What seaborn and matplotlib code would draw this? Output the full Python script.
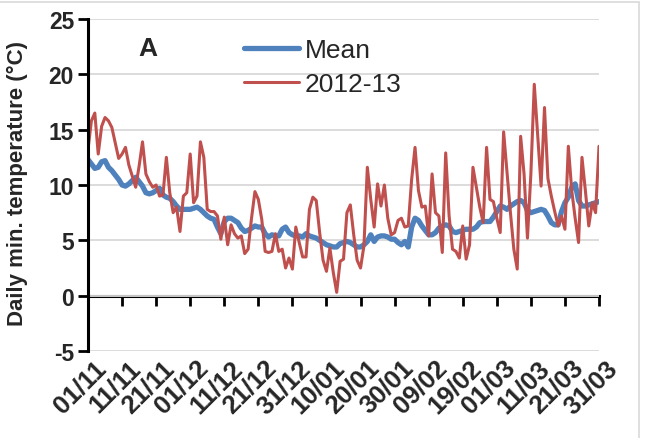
import numpy as np
import pandas as pd
import matplotlib
matplotlib.use("Agg")
import matplotlib.pyplot as plt
import matplotlib.transforms as mtransforms
from matplotlib.patches import Rectangle
import seaborn as sns

# Tick labels every 10 days, 1 Nov to 31 Mar
tick_labels = ["01/11", "11/11", "21/11", "01/12", "11/12", "21/12", "31/12", "10/01",
               "20/01", "30/01", "09/02", "19/02", "01/03", "11/03", "21/03", "31/03"]

# Long-term mean daily minimum temperature (°C), one value per day
mean_temp = [
    12.3, 11.9, 11.5, 11.6, 12.1, 12.2, 11.6, 11.3, 10.9, 10.5,
    10.0, 9.9, 10.1, 10.4, 10.7, 10.3, 9.9, 9.3, 9.2, 9.3,
    9.5, 9.7, 9.1, 8.9, 8.8, 8.5, 8.1, 7.8, 7.8, 7.8,
    7.8, 7.9, 8.0, 7.8, 7.5, 7.2, 7.0, 6.9, 6.2, 5.6,
    6.7, 7.0, 7.0, 6.8, 6.6, 6.1, 5.8, 5.9, 6.1, 6.3,
    6.2, 6.2, 5.6, 5.3, 5.5, 5.4, 5.4, 6.0, 6.2, 5.7,
    5.5, 5.4, 5.4, 5.3, 5.6, 5.4, 5.3, 5.2, 5.0, 4.8,
    4.6, 4.5, 4.4, 4.4, 4.7, 4.8, 4.9, 4.8, 4.6, 4.4,
    4.4, 4.6, 4.9, 5.5, 4.9, 5.3, 5.4, 5.4, 5.3, 5.1,
    5.1, 4.8, 4.6, 4.9, 4.4, 6.2, 7.0, 6.8, 6.3, 5.9,
    5.5, 5.5, 5.7, 6.1, 6.3, 6.4, 6.3, 5.8, 5.7, 5.8,
    5.9, 6.0, 6.0, 6.0, 6.2, 6.6, 6.7, 6.7, 6.7, 7.1,
    7.6, 8.1, 8.0, 7.8, 8.1, 8.3, 8.5, 8.6, 8.4, 7.7,
    7.5, 7.6, 7.7, 7.8, 7.7, 7.2, 6.6, 6.4, 6.4, 7.6,
    8.4, 8.9, 9.8, 10.1, 8.6, 8.1, 8.1, 8.2, 8.3, 8.4, 8.5,
]

# Daily minimum temperature for the 2012-13 season (°C)
season_temp = [
    13.2, 15.8, 16.5, 12.8, 15.3, 16.1, 15.8, 15.2, 13.8, 12.4,
    12.8, 13.4, 11.8, 10.8, 9.8, 11.7, 13.9, 11.0, 10.3, 9.8,
    10.0, 9.0, 9.1, 12.5, 9.3, 7.5, 8.0, 5.8, 9.0, 9.3,
    12.8, 8.4, 9.0, 13.9, 12.5, 7.8, 7.6, 7.6, 7.2, 5.1,
    7.1, 4.6, 6.4, 5.6, 5.2, 5.4, 3.8, 4.2, 7.0, 9.4,
    8.7, 6.9, 4.0, 3.9, 4.0, 5.6, 4.0, 4.2, 2.5, 3.4,
    2.4, 6.2, 4.8, 3.5, 3.5, 7.8, 8.9, 8.6, 5.7, 3.2,
    2.2, 4.3, 2.1, 0.3, 3.1, 3.3, 7.5, 8.2, 5.5, 3.2,
    2.5, 4.5, 11.6, 8.7, 6.2, 10.1, 8.1, 10.0, 7.0, 5.5,
    5.7, 6.8, 7.0, 6.2, 6.3, 10.5, 13.4, 9.5, 8.0, 8.1,
    5.4, 11.0, 7.5, 7.2, 3.9, 12.9, 7.2, 4.2, 4.0, 3.4,
    6.3, 3.3, 4.6, 11.6, 9.8, 8.0, 6.6, 13.4, 8.7, 8.5,
    7.0, 5.7, 14.8, 11.2, 7.5, 4.2, 2.4, 14.4, 11.0, 5.2,
    11.0, 19.1, 14.5, 9.9, 17.0, 10.6, 9.0, 7.6, 6.3, 7.2,
    6.0, 13.5, 9.5, 7.0, 4.8, 12.5, 9.5, 6.3, 8.4, 7.5, 13.5,
]

series_names = ["Mean", "2012-13"]
series_colors = ["#4F81BD", "#C0504D"]

sns.set_style("white")
plt.rcParams["font.family"] = ["Liberation Sans", "DejaVu Sans"]

df = pd.DataFrame({
    "day": np.arange(len(mean_temp)),
    "Mean": mean_temp,
    "2012-13": season_temp,
})

W, H = 645, 439
fig = plt.figure(figsize=(W / 100, H / 100), dpi=100)
ax = fig.add_axes([88 / W, 1 - 352 / H, (599 - 88) / W, (352 - 20) / H])

sns.lineplot(data=df, x="day", y="Mean", ax=ax, color=series_colors[0],
             linewidth=3.8, label=series_names[0])
sns.lineplot(data=df, x="day", y="2012-13", ax=ax, color=series_colors[1],
             linewidth=2.2, label=series_names[1])

# Y axis
ax.set_ylim(-5, 25)
ax.set_yticks(np.arange(-5, 26, 5))
ax.set_yticklabels([str(v) for v in range(-5, 26, 5)], fontsize=16.5, fontweight="bold")
ax.yaxis.grid(True, color="#d9d9d9", linewidth=1.3)
ax.set_axisbelow(True)
ax.tick_params(axis="y", direction="out", length=7, width=2, color="black", pad=3, left=True)
ax.set_ylabel("")
ax.set_xlabel("")

# X axis: labels along the bottom, axis line with ticks drawn at zero
ticks = np.arange(0, len(mean_temp), 10)
ax.set_xlim(0, len(mean_temp) - 1)
ax.set_xticks(ticks)
ax.set_xticklabels(tick_labels, fontsize=18.5, fontweight="bold")
ax.tick_params(axis="x", length=0, pad=3)
offset = mtransforms.ScaledTranslation(6 / 100, 0, fig.dpi_scale_trans)
for lbl in ax.get_xticklabels():
    lbl.set_rotation(45)
    lbl.set_ha("right")
    lbl.set_va("top")
    lbl.set_rotation_mode("anchor")
    lbl.set_transform(lbl.get_transform() + offset)

for side in ["top", "right", "bottom"]:
    ax.spines[side].set_visible(False)
ax.spines["left"].set_color("black")
ax.spines["left"].set_linewidth(2.2)

zero_axis = ax.secondary_xaxis(0, transform=ax.transData)
zero_axis.set_xticks(ticks)
zero_axis.tick_params(axis="x", direction="out", length=7, width=2, color="black",
                      labelbottom=False)
zero_axis.spines["bottom"].set_color("black")
zero_axis.spines["bottom"].set_linewidth(2.2)

# Legend and panel letter
leg = ax.legend(loc="upper left", bbox_to_anchor=(0.305, 0.943), frameon=False,
                prop={"family": "Liberation Sans", "size": 19},
                handlelength=2.1, handletextpad=0.2, labelspacing=0.39,
                borderpad=0, borderaxespad=0)
ax.text(0.098, 0.913, "A", transform=ax.transAxes, fontsize=19, fontweight="bold",
        ha="left", va="center")

fig.text(17 / W, 1 - 183 / H, "Daily min. temperature (°C)", rotation=90,
         ha="center", va="center", fontsize=16, fontweight="bold")

# Light chart-area border
fig.patches.append(Rectangle((-0.01, -0.01), 0.01 + 639 / W, 0.01 + 1 - 3 / H,
                             transform=fig.transFigure, fill=False,
                             edgecolor="#d9d9d9", linewidth=1.2))

fig.savefig("out.png", dpi=100)
